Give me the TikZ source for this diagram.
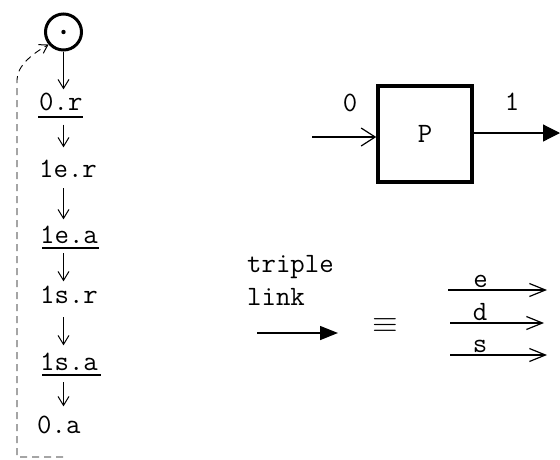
\documentclass[tikz,border=0pt]{standalone}
\usepackage{graphicx}
\usetikzlibrary{arrows.meta,calc}
\begin{document}
\begin{tikzpicture}[x=1pt,y=-1pt,
  txt/.style={inner sep=0pt, font=\ttfamily\fontsize{28}{33}\selectfont},
  lbl/.style={txt, anchor=base west},
  colarr/.style={line width=0.9pt, -{Straight Barb[length=9pt,width=11pt,line width=1pt]}},
  ul/.style={line width=2.2pt},
  fb/.style={line width=0.9pt, dash pattern=on 7pt off 5pt, -{Straight Barb[length=8pt,width=10pt,line width=1pt]}},
  openarr/.style={line width=1.1pt, -{Straight Barb[length=14pt,width=18pt,line width=1.2pt]}},
  smallarr/.style={line width=1.1pt, -{Straight Barb[length=16pt,width=13pt,line width=1.2pt]}},
  outarr/.style={line width=1.2pt, -{Triangle[length=17pt,width=17pt]}},
  bigarr/.style={line width=1.5pt, -{Triangle[length=18pt,width=14pt]}},
]
\useasboundingbox (0,0) rectangle (560,459);

% left column
\node[draw, circle, line width=3pt, minimum size=36pt, inner sep=0pt] (c) at (63.5,32) {};
\fill (c.center) circle (2.2pt);

\node[lbl] (nor) at (39,110) {0.r};
\node[lbl] (ler) at (39,177) {1e.r};
\node[lbl] (lea) at (40,243) {1e.a};
\node[lbl] (lsr) at (40,303) {1s.r};
\node[lbl] (lsa) at (40,370) {1s.a};
\node[lbl] (oa)  at (37,433) {0.a};

\draw[ul] ($(nor.base west)+(-1,7)$) -- ($(nor.base east)+(0,7)$);
\draw[ul] ($(lea.base west)+(2,5)$) -- ($(lea.base east)+(1,5)$);
\draw[ul] ($(lsa.base west)+(2,5)$) -- ($(lsa.base east)+(3,5)$);

\draw[colarr, shorten >=3pt] (c.south) -- (nor.north -| c.center);
\draw[colarr, shorten <=14pt, shorten >=12pt] (nor.south -| c.center) -- (ler.north -| c.center);
\draw[colarr, shorten <=11pt, shorten >=6pt] (ler.south -| c.center) -- (lea.north -| c.center);
\draw[colarr, shorten <=10pt, shorten >=4pt] (lea.south -| c.center) -- (lsr.north -| c.center);
\draw[colarr, shorten <=14pt, shorten >=7pt] (lsr.south -| c.center) -- (lsa.north -| c.center);
\draw[colarr, shorten <=12pt, shorten >=9pt] (lsa.south -| c.center) -- (oa.north -| c.center);

\coordinate (fbstart) at (63,457);
\draw[fb] (fbstart) -- (17,457) -- (17,80) .. controls (17,66) and (32,54) .. (c.220);

% box P
\node[draw, line width=3.5pt, minimum width=94pt, minimum height=96pt, txt] (P) at (425,134) {P};
\node[txt] (l0) at (350,103) {0};
\node[txt] (l1) at (512,102) {1};
\coordinate (pin) at (312,137);
\coordinate (pout) at (560,133);
\draw[openarr] (pin) -- (pin -| P.west);
\draw[outarr] (P.east |- pout) -- (pout);

% triple link
\node[txt, align=left, anchor=north west] (tl) at (247,255) {triple\\link};
\coordinate (ta) at (257,333);
\coordinate (tb) at (338,333);
\draw[bigarr] (ta) -- (tb);
\node[inner sep=0pt] (eq) at (385,326) {\scalebox{3.3}[3.0]{$\equiv$}};

\coordinate (e1) at (448,290); \coordinate (e2) at (547,290);
\coordinate (d1) at (450,323); \coordinate (d2) at (544,323);
\coordinate (s1) at (450,355); \coordinate (s2) at (547,355);
\draw[smallarr] (e1) -- node[txt, pos=0.33, anchor=base, yshift=3pt] {e} (e2);
\draw[smallarr] (d1) -- node[txt, pos=0.32, anchor=base, yshift=3pt] {d} (d2);
\draw[smallarr] (s1) -- node[txt, pos=0.31, anchor=base, yshift=3pt] {s} (s2);
\end{tikzpicture}
\end{document}
